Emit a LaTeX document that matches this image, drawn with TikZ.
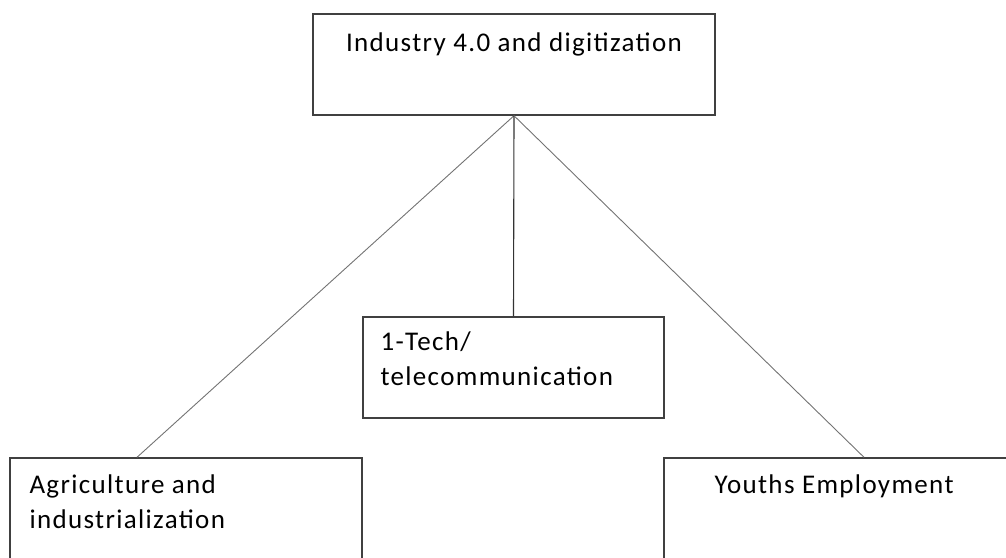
\documentclass[tikz,border=0pt]{standalone}
\usepackage{fontspec}
\setmainfont{Carlito}[LetterSpace=5]
\usetikzlibrary{positioning}

\def \boxLine {1.4pt}

\tikzset{
  box/.style={draw=black!75, line width=\boxLine, minimum width=#1, minimum height=101pt, inner sep=0pt},
  lbl/.style={inner sep=0pt, align=left, font=\fontsize{27}{35}\selectfont},
  link/.style={draw=black!55, line width=0.9pt}
}

\begin{document}
\begin{tikzpicture}[x=1pt, y=-1pt]
      \useasboundingbox (0,0) rectangle (1006,557);
      \clip (0,0) rectangle (1006,557);
      % boxes
      \node[box=402pt] (top) at (514,64.5) {};
      \node[box=301pt] (mid) at (513.5,367.5) {};
      \node[box=352pt, minimum height=160pt] (agri) at (186,538) {};
      \node[box=400pt, minimum height=160pt] (youth) at (864,538) {};
      % texts
      \node[lbl, below=19pt of top.north] (topText) {Industry 4.0 and digitization};
      \node[lbl, below right=15pt and 18pt of mid.north west] (midText) {1-Tech/\\telecommunication};
      \node[lbl, below right=17pt and 20pt of agri.north west] (agriText) {Agriculture and\\industrialization};
      \node[lbl, below right=17pt and 51pt of youth.north west] (youthText) {Youths Employment};
      % links
      \draw[link] (top.south) -- ([xshift=-49pt]agri.north);
      \draw[link, draw=black!80, line width=1.1pt] (top.south) -- (mid.north);
      \draw[link] (top.south) -- (youth.north);
   \end{tikzpicture}
\end{document}
